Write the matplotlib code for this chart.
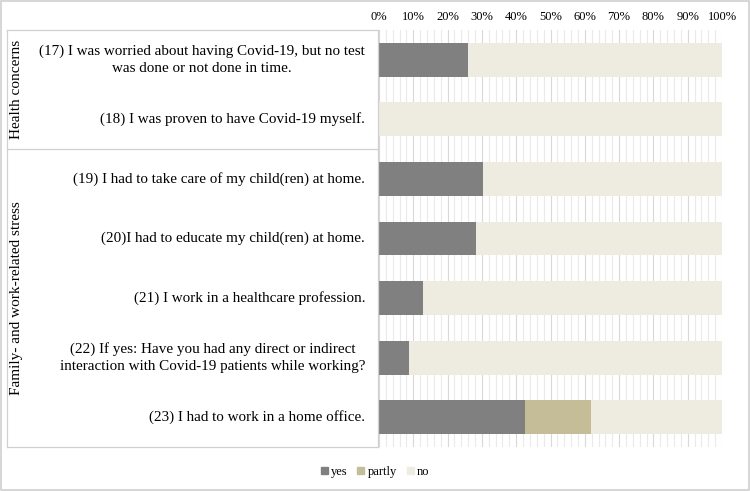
import numpy as np
import matplotlib.pyplot as plt
from matplotlib.patches import Patch, Rectangle
from matplotlib.lines import Line2D
from matplotlib.ticker import MultipleLocator, PercentFormatter

plt.rcParams["font.family"] = ["Liberation Serif", "DejaVu Serif"]

# 問卷題目 (由上至下)
items = [
    "(17) I was worried about having Covid-19, but no test\nwas done or not done in time.",
    "(18) I was proven to have Covid-19 myself.",
    "(19) I had to take care of my child(ren) at home.",
    "(20)I had to educate my child(ren) at home.",
    "(21) I work in a healthcare profession.",
    "(22) If yes: Have you had any direct or indirect\ninteraction with Covid-19 patients while working?",
    "(23) I had to work in a home office.",
]
yes = np.array([26.0, 0.0, 30.2, 28.4, 12.9, 8.8, 42.7])
partly = np.array([0.0, 0.0, 0.0, 0.0, 0.0, 0.0, 19.2])
no = 100.0 - yes - partly

groups = ["Health concerns", "Family- and work-related stress"]
group_rows = [(0, 2), (2, 7)]

c_yes, c_partly, c_no = "#808080", "#C4BD97", "#EEECE1"

W, H = 750, 491
fig = plt.figure(figsize=(W / 100, H / 100), dpi=100)


def fx(px):
    return px / W


def fy(py):
    return 1 - py / H


ax = fig.add_axes([fx(379), fy(447), fx(722) - fx(379), fy(30) - fy(447)])

y = np.arange(len(items))
h = 0.57
ax.barh(y, yes, height=h, color=c_yes, zorder=3)
ax.barh(y, partly, left=yes, height=h, color=c_partly, zorder=3)
ax.barh(y, no, left=yes + partly, height=h, color=c_no, zorder=3)

ax.set_xlim(0, 100)
ax.set_ylim(len(items) - 0.5, -0.5)
ax.xaxis.set_major_locator(MultipleLocator(10))
ax.xaxis.set_minor_locator(MultipleLocator(2))
ax.xaxis.set_major_formatter(PercentFormatter(decimals=0))
ax.xaxis.tick_top()
ax.tick_params(axis="x", which="both", length=0, labelsize=9, pad=5)
ax.grid(True, axis="x", which="major", color="#D9D9D9", linewidth=0.8, zorder=0)
ax.grid(True, axis="x", which="minor", color="#EAEAEA", linewidth=0.8, zorder=0)
ax.set_yticks([])
for s in ax.spines.values():
    s.set_visible(False)

# 題目文字
row_px = (447 - 30) / len(items)
for i, txt in enumerate(items):
    py = 30 + (i + 0.5) * row_px
    fig.text(fx(365), fy(py), txt, ha="right", va="center",
             multialignment="center", fontsize=10.9, linespacing=1.4)

# 左側表格框線
lc = "#D0D0D0"
for py in (30, 149, 447):
    fig.add_artist(Line2D([fx(7), fx(378)], [fy(py), fy(py)], color=lc, lw=0.9))
for px in (7, 378):
    fig.add_artist(Line2D([fx(px), fx(px)], [fy(30), fy(447)], color=lc, lw=0.9))

# 分組標籤 (直書)
for g, (a, b) in zip(groups, group_rows):
    py = 30 + (a + b) / 2 * row_px
    fig.text(fx(17), fy(py), g, rotation=90, ha="center", va="center", fontsize=11)

handles = [Patch(color=c_yes, label="yes"),
           Patch(color=c_partly, label="partly"),
           Patch(color=c_no, label="no")]
fig.legend(handles=handles, loc="center", bbox_to_anchor=(0.5, fy(472)), ncol=3,
           frameon=False, fontsize=9, handlelength=0.55, handleheight=0.55,
           handletextpad=0.25, columnspacing=0.8)

fig.add_artist(Rectangle((0.001, 0.002), 0.997, 0.996, transform=fig.transFigure,
                         fill=False, edgecolor="#D0D0D0", lw=1.2))

fig.savefig("out.png", dpi=100)
